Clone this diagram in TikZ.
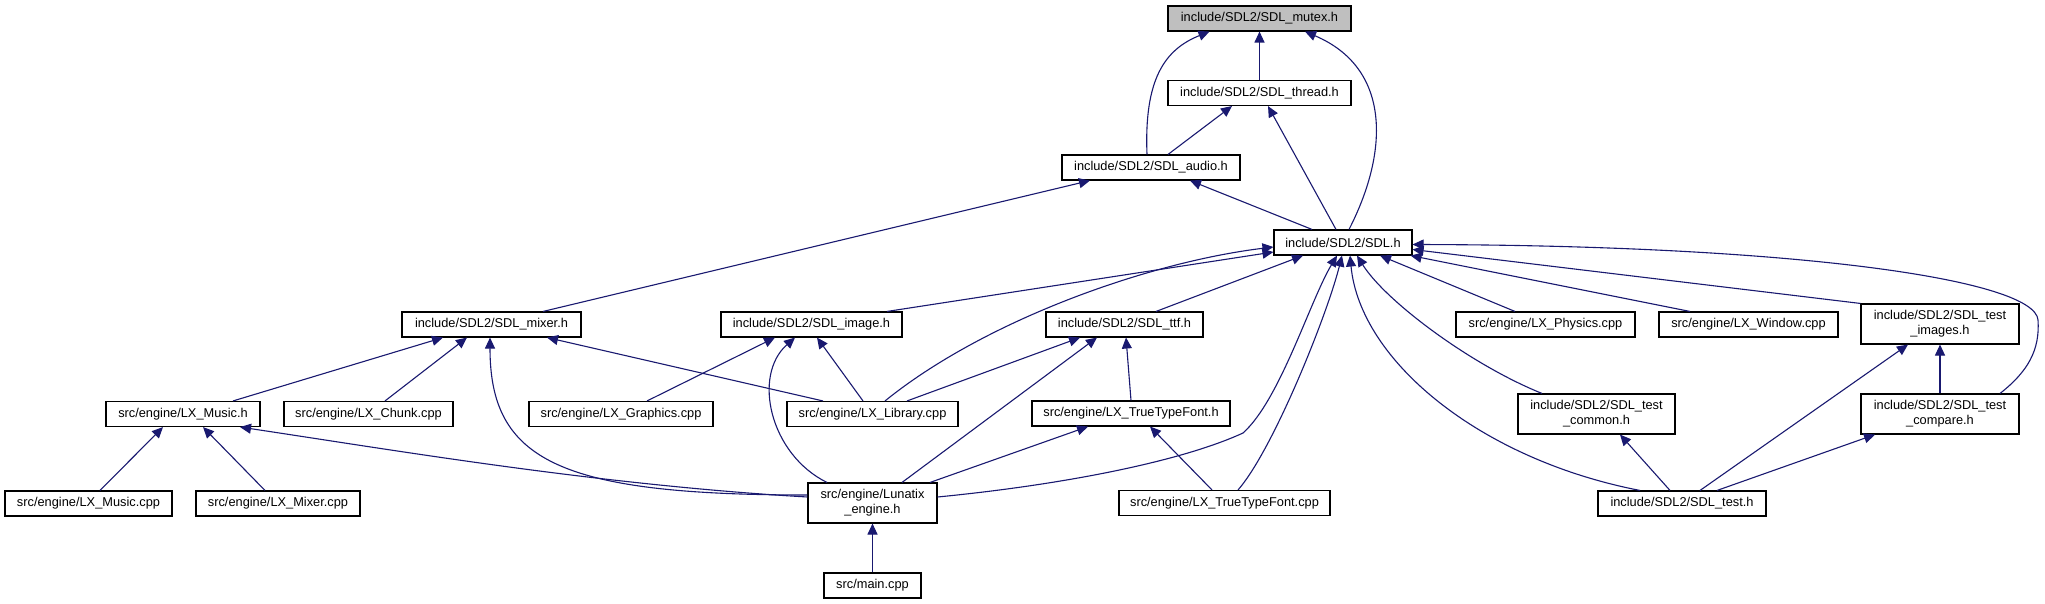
\documentclass[tikz,border=0pt]{standalone}
\usepackage{fontspec}
\setmainfont{Liberation Sans}
\usetikzlibrary{arrows.meta}
\definecolor{edgeblue}{RGB}{25,25,112}
\definecolor{rootgray}{RGB}{191,191,191}

\begin{document}
\begin{tikzpicture}[x=1pt, y=-1pt,
  file/.style={draw=black, line width=1.1pt, fill=white, inner sep=0pt,
               minimum height=25, align=center,
               font=\fontsize{12.8}{15}\selectfont},
  twoline/.style={file, minimum height=40},
  root/.style={file, fill=rootgray},
  link/.style={-{Triangle[length=11pt,width=10pt]}, line width=1.1pt, edgeblue}
]
\useasboundingbox[fill=white] (0,0) rectangle (2045,604);

\node[root, minimum width=183] (mutex) at (1259.5,18.5) {include/SDL2/SDL\_mutex.h};
\node[file, minimum width=183] (thread) at (1259.5,93) {include/SDL2/SDL\_thread.h};
\node[file, minimum width=178] (audio) at (1151,167.5) {include/SDL2/SDL\_audio.h};
\node[file, minimum width=138] (sdl) at (1343,242.5) {include/SDL2/SDL.h};
\node[file, minimum width=179] (mixer) at (491.5,324.5) {include/SDL2/SDL\_mixer.h};
\node[file, minimum width=181] (image) at (811.5,324.5) {include/SDL2/SDL\_image.h};
\node[file, minimum width=157] (ttf) at (1124.5,324.5) {include/SDL2/SDL\_ttf.h};
\node[file, minimum width=179] (physics) at (1545.5,324.5) {src/engine/LX\_Physics.cpp};
\node[file, minimum width=179] (window) at (1748.5,324.5) {src/engine/LX\_Window.cpp};
\node[twoline, minimum width=158] (testimg) at (1940,324) {include/SDL2/SDL\_test\\\_images.h};
\node[file, minimum width=154] (musich) at (183,414) {src/engine/LX\_Music.h};
\node[file, minimum width=169] (chunk) at (368.5,414) {src/engine/LX\_Chunk.cpp};
\node[file, minimum width=184] (graphics) at (621,414) {src/engine/LX\_Graphics.cpp};
\node[file, minimum width=171] (library) at (872.5,414) {src/engine/LX\_Library.cpp};
\node[file, minimum width=198] (ttfh) at (1131,413.5) {src/engine/LX\_TrueTypeFont.h};
\node[twoline, minimum width=157] (testcommon) at (1596.5,414) {include/SDL2/SDL\_test\\\_common.h};
\node[twoline, minimum width=158] (testcompare) at (1940,414) {include/SDL2/SDL\_test\\\_compare.h};
\node[file, minimum width=167] (musiccpp) at (88.5,503.5) {src/engine/LX\_Music.cpp};
\node[file, minimum width=164] (mixercpp) at (278,503.5) {src/engine/LX\_Mixer.cpp};
\node[twoline, minimum width=129] (lunatix) at (872.5,503) {src/engine/Lunatix\\\_engine.h};
\node[file, minimum width=211] (ttfcpp) at (1224.5,503) {src/engine/LX\_TrueTypeFont.cpp};
\node[file, minimum width=168] (testh) at (1682,503.5) {include/SDL2/SDL\_test.h};
\node[file, minimum width=97] (maincpp) at (872.5,585.5) {src/main.cpp};

\coordinate (lunbend) at (1243,433);
\coordinate (cmpbend) at (2038,320);

\draw[link] (thread) -- (mutex);
\draw[link] ([xshift=-4]audio.north) .. controls +(-3,-75) and +(-45,18) .. ([xshift=-50]mutex.south);
\draw[link] ([xshift=6]sdl.north) .. controls +(41,-80) and +(85,36) .. ([xshift=45.5]mutex.south);
\draw[link] ([xshift=17]audio.north) -- ([xshift=-27.5]thread.south);
\draw[link] ([xshift=-7]sdl.north) -- ([xshift=8.5]thread.south);
\draw[link] ([xshift=-31]sdl.north) -- ([xshift=39]audio.south);
\draw[link] ([xshift=51.5]mixer.north) -- ([xshift=-61]audio.south);

\draw[link] ([xshift=75.5]image.north) -- ([yshift=-9.5]sdl.west);
\draw[link] ([xshift=12.5]library.north) .. controls +(100,-81) and +(-124,15) .. ([yshift=-4.5]sdl.west);
\draw[link] ([xshift=31.5]ttf.north) -- ([xshift=-40]sdl.south);
\draw[link] ([yshift=6]lunatix.east) .. controls +(123,-12) and +(-63,29) .. (lunbend)
  .. controls +(37,-33) and +(-27,45) .. ([xshift=-6]sdl.south);
\draw[link] ([xshift=13.5]ttfcpp.north) .. controls +(35,-40) and +(-15,60) .. ([xshift=-1]sdl.south);
\draw[link] ([xshift=-42]testh.north) .. controls +(-160,-31) and +(10,105) .. ([xshift=7]sdl.south);
\draw[link] ([xshift=-54.5]testcommon.north) .. controls +(-72,-29) and +(28,45) .. ([xshift=14]sdl.south);
\draw[link] ([xshift=-30.5]physics.north) -- ([xshift=37]sdl.south);
\draw[link] ([xshift=-58.5]window.north) -- ([xshift=-2]sdl.south east);
\draw[link] (testimg.north west) -- ([yshift=-7]sdl.east);
\draw[link] ([xshift=60]testcompare.north) .. controls +(28,-22) and +(2,30) .. (cmpbend)
  .. controls +(-3,-40) and +(388,1) .. ([yshift=-2]sdl.east);

\draw[link] ([xshift=50]musich.north) -- ([xshift=-48.5]mixer.south);
\draw[link] ([xshift=16.5]chunk.north) -- ([xshift=-24.5]mixer.south);
\draw[link] ([yshift=8]lunatix.west) .. controls +(-248,0) and +(0,123) .. ([xshift=-1.5]mixer.south);
\draw[link] ([xshift=-49.5]library.north) -- ([xshift=55.5]mixer.south);

\draw[link] ([xshift=26]graphics.north) -- ([xshift=-36.5]image.south);
\draw[link] ([xshift=-45.5]lunatix.north) .. controls +(-57,-28) and +(-43,38) .. ([xshift=-16.5]image.south);
\draw[link] ([xshift=-9.5]library.north) -- ([xshift=5.5]image.south);

\draw[link] ([xshift=34.5]library.north) -- ([xshift=-44.5]ttf.south);
\draw[link] ([xshift=29.5]lunatix.north) -- ([xshift=-27.5]ttf.south);
\draw[link] (ttfh.north) -- ([xshift=1.5]ttf.south);
\draw[link] ([xshift=57.5]lunatix.north) -- ([xshift=-43]ttfh.south);
\draw[link] ([xshift=-12.5]ttfcpp.north) -- ([xshift=19]ttfh.south);

\draw[link] ([xshift=11.5]musiccpp.north) -- ([xshift=-20]musich.south);
\draw[link] ([xshift=-13]mixercpp.north) -- ([xshift=20]musich.south);
\draw[link] ([yshift=6]lunatix.west) .. controls +(-208,-12) and +(160,24) .. ([xshift=57]musich.south);
\draw[link] (maincpp) -- (lunatix);

\draw[link] ([xshift=18]testh.north) -- ([xshift=-32]testimg.south);
\draw[link] (testcompare) -- (testimg);
\draw[link] ([xshift=35]testh.north) -- ([xshift=-65]testcompare.south);
\draw[link] ([xshift=-12]testh.north) -- ([xshift=23.5]testcommon.south);
\end{tikzpicture}
\end{document}
